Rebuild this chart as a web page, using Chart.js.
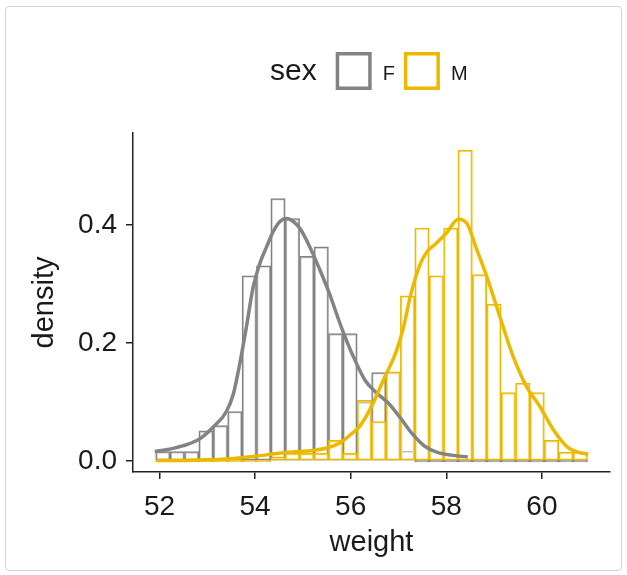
<!DOCTYPE html>
<html><head><meta charset="utf-8">
<script src="https://cdn.jsdelivr.net/npm/chart.js@4.4.1/dist/chart.umd.min.js"></script>
<style>
html,body{margin:0;padding:0;background:#fff;}
#wrap{position:relative;width:627px;height:575px;}
#frame{position:absolute;left:5px;top:6px;width:617px;height:565px;border:1px solid #d4d4d4;border-radius:4px;box-sizing:border-box;pointer-events:none;}
canvas{position:absolute;left:0;top:0;}
</style></head><body>
<div id="wrap"><canvas id="c" width="627" height="575"></canvas><div id="frame"></div></div>
<script>
// ---- data ----
const legendTitle = 'sex';
const groups = ['F', 'M'];
const xTitle = 'weight';
const yTitle = 'density';
const xTicks = [52, 54, 56, 58, 60];
const yTicks = [0.0, 0.2, 0.4];

const binCenters = [52.071, 52.372, 52.673, 52.974, 53.276, 53.577, 53.878, 54.179, 54.480, 54.781,
                    55.082, 55.384, 55.685, 55.986, 56.287, 56.588, 56.889, 57.190, 57.492, 57.793,
                    58.094, 58.395, 58.696, 58.997, 59.298, 59.600, 59.901, 60.202, 60.503, 60.804];
const fHist = [0.016, 0.016, 0.016, 0.051, 0.060, 0.084, 0.314, 0.331, 0.445, 0.411,
               0.347, 0.363, 0.216, 0.216, 0.100, 0.150, 0.150, 0.017, 0, 0,
               0, 0, 0, 0, 0, 0, 0, 0, 0, 0];
const mHist = [0, 0, 0, 0, 0, 0, 0, 0, 0.007, 0.013,
               0.013, 0.013, 0.035, 0.013, 0.103, 0.067, 0.151, 0.280, 0.395, 0.314,
               0.395, 0.527, 0.316, 0.266, 0.116, 0.132, 0.116, 0.035, 0.015, 0.015];

const fCurveX = [51.9, 52.2, 52.5, 52.85, 53.13, 53.4, 53.55, 53.68, 53.82, 53.96, 54.1, 54.24, 54.38, 54.52, 54.66,
                 54.8, 54.94, 55.15, 55.35, 55.55, 55.8, 56.05, 56.3, 56.55, 56.8, 57.05, 57.3, 57.55, 57.8, 58.1, 58.45];
const fCurveY = [0.016, 0.020, 0.026, 0.038, 0.058, 0.084, 0.115, 0.165, 0.228, 0.295, 0.335, 0.363, 0.389, 0.406, 0.411,
                 0.406, 0.394, 0.362, 0.325, 0.285, 0.228, 0.178, 0.137, 0.115, 0.097, 0.072, 0.045, 0.025, 0.015, 0.010, 0.007];
const mCurveX = [51.95, 52.5, 53.0, 53.5, 54.0, 54.5, 54.9, 55.2, 55.5, 55.8, 56.0, 56.2, 56.45, 56.7, 56.95, 57.1,
                 57.25, 57.45, 57.6, 57.75, 58.0, 58.25, 58.43, 58.64, 58.85, 59.12, 59.4, 59.68, 59.96, 60.24, 60.53, 60.8, 60.97];
const mCurveY = [0.001, 0.001, 0.002, 0.004, 0.008, 0.013, 0.016, 0.018, 0.022, 0.032, 0.045, 0.060, 0.095, 0.140, 0.185, 0.225,
                 0.280, 0.333, 0.355, 0.366, 0.386, 0.410, 0.403, 0.358, 0.312, 0.245, 0.177, 0.126, 0.092, 0.053, 0.024, 0.014, 0.012];

// ---- styling ----
const FONT = '"Liberation Sans", Arial, Helvetica, sans-serif';
const colors = { F: '#838383', M: '#EBBA00' };
const ink = '#1a1a1a';
const xy = (xs, ys) => xs.map((x, i) => ({ x: x, y: ys[i] }));

const barCommon = {
  type: 'bar', backgroundColor: 'rgba(255,255,255,0.5)', borderWidth: 1.5,
  grouped: false, barPercentage: 1, categoryPercentage: 1, minBarLength: 2, borderSkipped: false
};
const lineCommon = {
  type: 'line', borderWidth: 3.5, pointRadius: 0, fill: false, cubicInterpolationMode: 'monotone'
};

const legendPlugin = {
  id: 'sexLegend',
  afterDraw(chart) {
    const ctx = chart.ctx;
    const ca = chart.chartArea;
    ctx.save();
    ctx.textBaseline = 'alphabetic';
    ctx.fillStyle = ink;
    let x = ca.left + 137;
    const base = 80;
    ctx.font = '30px ' + FONT;
    ctx.fillText(legendTitle, x, base);
    x += ctx.measureText(legendTitle).width + 19;
    groups.forEach(g => {
      ctx.fillStyle = '#fff';
      ctx.fillRect(x, 52, 36, 38);
      ctx.strokeStyle = colors[g];
      ctx.lineWidth = 3.5;
      ctx.strokeRect(x + 1.75, 53.75, 32.5, 34.5);
      x += 36 + 11;
      ctx.fillStyle = ink;
      ctx.font = '20px ' + FONT;
      ctx.fillText(g, x, base);
      x += ctx.measureText(g).width + 9;
    });
    ctx.restore();
  }
};

const LEFT_PAD = 8, BOTTOM_PAD = 10, TOP = 133, BOTTOM = 472, RIGHT_PAD = 17;

new Chart(document.getElementById('c'), {
  type: 'bar',
  data: {
    datasets: [
      Object.assign({}, lineCommon, { label: 'M', data: xy(mCurveX, mCurveY), borderColor: colors.M }),
      Object.assign({}, lineCommon, { label: 'F', data: xy(fCurveX, fCurveY), borderColor: colors.F }),
      Object.assign({}, barCommon, { label: 'M', data: xy(binCenters, mHist), borderColor: colors.M }),
      Object.assign({}, barCommon, { label: 'F', data: xy(binCenters, fHist), borderColor: colors.F })
    ]
  },
  options: {
    responsive: false, animation: false, devicePixelRatio: 1,
    layout: { padding: { top: TOP, left: LEFT_PAD, right: RIGHT_PAD, bottom: BOTTOM_PAD } },
    plugins: { legend: { display: false }, tooltip: { enabled: false } },
    scales: {
      x: {
        type: 'linear', min: 51.446, max: 61.425, offset: false,
        afterBuildTicks: s => { s.ticks = xTicks.map(v => ({ value: v })); },
        afterFit: s => { s.height = 575 - BOTTOM - BOTTOM_PAD; },
        ticks: { font: { family: FONT, size: 28 }, color: ink, padding: 11, maxRotation: 0, autoSkip: false,
                 callback: v => String(v) },
        grid: { display: true, offset: false, drawOnChartArea: false, drawTicks: true, tickLength: 7, color: '#222', lineWidth: 1.5 },
        border: { display: true, color: '#222', width: 1.5 },
        title: { display: true, text: xTitle, color: ink, font: { family: FONT, size: 29 }, padding: { top: 0, bottom: 5 } }
      },
      y: {
        type: 'linear', min: -0.0186, max: 0.556,
        afterBuildTicks: s => { s.ticks = yTicks.map(v => ({ value: v })); },
        afterFit: s => { s.width = 133 - LEFT_PAD; },
        ticks: { font: { family: FONT, size: 28 }, color: ink, padding: 9, autoSkip: false,
                 callback: v => Number(v).toFixed(1) },
        grid: { display: true, offset: false, drawOnChartArea: false, drawTicks: true, tickLength: 7, color: '#222', lineWidth: 1.5 },
        border: { display: true, color: '#222', width: 1.5 },
        title: { display: true, text: yTitle, color: ink, font: { family: FONT, size: 29 }, padding: { top: 20, bottom: 0 } }
      }
    }
  },
  plugins: [legendPlugin]
});
</script>
</body></html>
